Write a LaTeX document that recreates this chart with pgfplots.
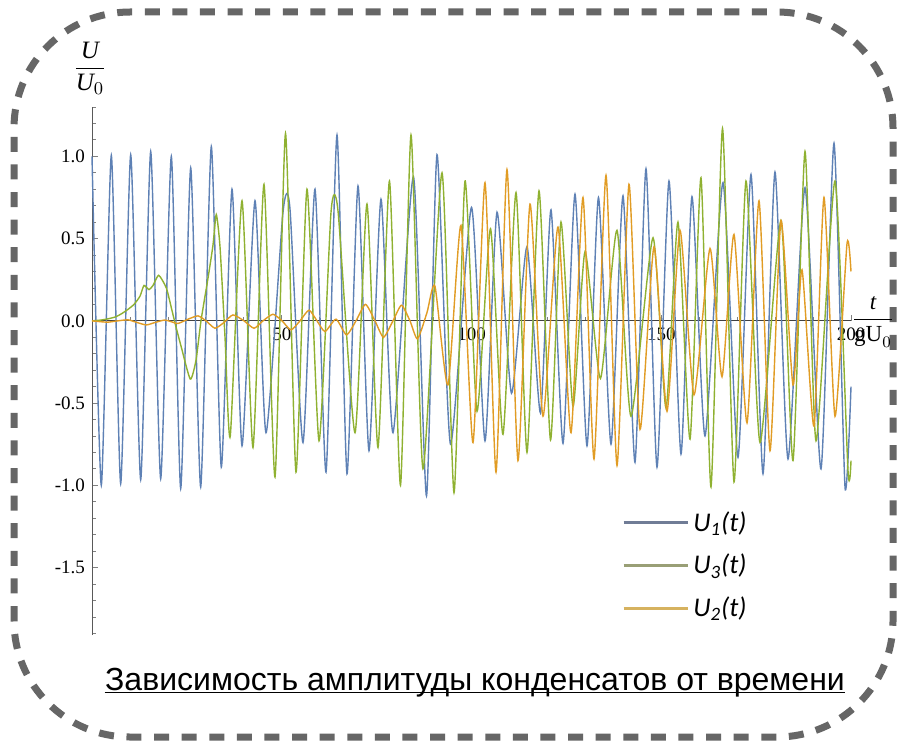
\documentclass[border=0pt]{standalone}
\usepackage{fontspec}
\setmainfont{Liberation Serif}
\newfontfamily\titlefont{Liberation Sans}
\newfontfamily\legfont{Carlito}
\usepackage{pgfplots}
\pgfplotsset{compat=1.18}
\definecolor{mblue}{HTML}{5E81B5}
\definecolor{mgreen}{HTML}{8FB131}
\definecolor{morange}{HTML}{E19C24}
\definecolor{legblue}{HTML}{707C96}
\definecolor{leggreen}{HTML}{999F76}
\definecolor{legorange}{HTML}{D6B25F}
\definecolor{bordergray}{HTML}{666666}
\begin{document}
\begin{tikzpicture}
\path[use as bounding box] (0pt,0pt) rectangle (452.5pt,370.5pt);
\fill[white] (0pt,0pt) rectangle (452.5pt,370.5pt);
\draw[line width=3.5pt, bordergray, dash pattern=on 7.5pt off 6.3pt, rounded corners=58pt] (7pt,2pt) rectangle (446.5pt,364.5pt);
\begin{axis}[
  at={(46pt,53pt)}, anchor=south west,
  scale only axis, width=379.5pt, height=264pt,
  xmin=0, xmax=200, ymin=-1.91, ymax=1.30,
  axis lines=middle,
  axis line style={-, black!65},
  x axis line style={black!75},
  hide obscured x ticks=false, hide obscured y ticks=false,
  xtick={50,100,150,200}, xticklabels={50,100,150,200},
  minor xtick={10,20,30,40,60,70,80,90,110,120,130,140,160,170,180,190},
  ytick={-1.5,-1,-0.5,0,0.5,1}, yticklabels={-1.5,-1.0,-0.5,0.0,0.5,1.0},
  minor ytick={-1.9,-1.8,-1.7,-1.6,-1.4,-1.3,-1.2,-1.1,-0.9,-0.8,-0.7,-0.6,-0.4,-0.3,-0.2,-0.1,0.1,0.2,0.3,0.4,0.6,0.7,0.8,0.9,1.1,1.2,1.3},
  tick align=inside,
  major tick length=3pt, minor tick length=1.8pt,
  tick style={black!50, line width=0.4pt},
  tick label style={font=\fontsize{9.5}{10}\selectfont, black},
  legend style={at={(0.69,0.25)}, anchor=north west, draw=none, fill=none,
    font=\legfont\itshape\fontsize{13.5}{15}\selectfont, row sep=6pt},
  legend cell align=left,
  legend image code/.code={\draw[#1, line width=1.6pt] (0pt,0pt) -- (32pt,0pt);},
  every axis plot/.append style={line width=0.7pt, smooth, tension=0.36},
  clip=false,
]
\addplot[mblue, forget plot] coordinates {
(0,1.0) (2.45,-1.0) (5.09,1.006) (7.56,-0.99) (10.20,1.01) (12.83,-0.966) (15.47,1.03) (18.10,-0.96) (20.90,1.0) (23.37,-1.02) (26.01,0.93) (28.64,-1.01) (31.44,1.06) (34.07,-0.89) (36.89,0.80) (39.53,-0.76) (42.95,0.73) (45.85,-0.68) (50.33,0.66) (52.17,0.68) (55.60,-0.74) (58.76,0.80) (61.66,-0.92) (64.56,1.13) (67.19,-0.93) (70.09,0.82) (72.99,-0.79) (76.15,0.74) (79.31,-0.68) (84.72,0.875) (88.14,-1.065) (90.91,1.01) (94.47,-0.75) (100.0,0.69) (103.56,-0.73) (106.72,0.66) (110.54,-0.44) (114.62,0.45) (118.18,-0.56) (120.95,0.675) (124.11,-0.745) (127.27,0.77) (130.43,-0.76) (133.46,0.75) (136.76,-0.75) (139.92,0.76) (143.08,-0.86) (145.98,0.925) (148.88,-0.89) (152.04,0.85) (155.20,-0.81) (158.10,0.755) (161.53,-0.70) (166.27,0.84) (170.22,-0.83) (173.65,0.89) (176.81,-0.93) (179.97,0.905) (183.40,-0.84) (187.88,0.81) (192.09,-0.90) (195.52,1.08) (198.42,-1.01) (200,-0.4)
};
\addplot[mgreen, forget plot] coordinates {
(0,0) (2.11,0.004) (4.22,0.012) (6.32,0.025) (7.91,0.045) (9.49,0.07) (11.07,0.10) (12.65,0.15) (13.70,0.215) (15.02,0.19) (16.07,0.215) (17.58,0.277) (19.58,0.2) (20.90,0.08) (21.95,-0.02) (23.53,-0.16) (25.90,-0.354) (27.40,-0.24) (28.72,0.0) (30.57,0.26) (31.88,0.46) (32.75,0.646) (33.73,0.45) (35.05,-0.1) (36.44,-0.70) (39.53,0.73) (42.42,-0.77) (45.32,0.83) (48.22,-0.95) (50.99,1.14) (53.75,-0.92) (56.65,0.80) (59.82,-0.73) (62.98,0.66) (64.82,0.67) (69.30,-0.68) (72.46,0.71) (75.36,-0.77) (78.39,0.85) (81.29,-1.0) (84.06,1.13) (87.22,-0.9) (92.23,0.9) (95.39,-1.045) (98.29,0.85) (101.45,-0.55) (105.01,0.56) (108.30,-0.69) (111.73,0.78) (114.62,-0.80) (117.79,0.79) (120.82,-0.725) (123.58,0.60) (126.75,-0.52) (129.91,0.42) (133.99,-0.35) (138.34,0.55) (142.03,-0.58) (147.83,0.505) (151.26,-0.53) (154.41,0.60) (157.58,-0.72) (160.47,0.87) (163.11,-1.01) (166.14,1.17) (169.17,-0.98) (172.33,0.85) (176.02,-0.74) (181.55,0.61) (184.72,-0.85) (187.88,1.03) (190.78,-0.73) (195.78,0.85) (199.21,-0.91) (200,-0.85)
};
\addplot[morange, forget plot] coordinates {
(0,0) (2.11,-0.005) (4.22,-0.008) (6.85,0.0) (9.49,0.006) (11.86,-0.01) (14.31,-0.025) (16.60,-0.01) (19.16,0.005) (20.82,-0.005) (22.66,-0.016) (25.30,0.01) (27.93,0.03) (30.04,0.0) (32.41,-0.045) (34.78,-0.01) (37.15,0.036) (40.05,0.0) (42.69,-0.045) (45.06,0.0) (47.69,0.04) (50.07,0.0) (52.44,-0.055) (54.81,0.0) (57.18,0.065) (59.29,0.0) (61.40,-0.065) (64.30,0.01) (67.06,-0.085) (69.57,0.0) (72.07,0.10) (74.57,0.0) (76.81,-0.10) (79.31,0.0) (81.55,0.095) (83.79,0.0) (85.77,-0.11) (88.27,0.05) (90.38,0.21) (93.81,-0.39) (97.23,0.58) (100.40,-0.74) (103.56,0.84) (106.46,-0.92) (109.35,0.92) (112.25,-0.85) (115.42,0.71) (118.84,-0.58) (122.79,0.57) (126.22,-0.68) (129.38,0.75) (132.28,-0.84) (135.44,0.885) (138.34,-0.88) (141.50,0.83) (144.40,-0.66) (148.09,0.45) (151.52,-0.55) (154.94,0.55) (158.63,-0.45) (162.85,0.44) (166.01,-0.34) (169.17,0.525) (172.60,-0.62) (175.76,0.73) (178.66,-0.79) (181.55,0.61) (184.72,-0.39) (187.09,0.31) (190.25,-0.64) (192.88,0.75) (195.78,-0.58) (198.95,0.47) (200,0.3)
};
\addlegendimage{legblue}
\addlegendentry{U\textsubscript{1}(t)}
\addlegendimage{leggreen}
\addlegendentry{U\textsubscript{3}(t)}
\addlegendimage{legorange}
\addlegendentry{U\textsubscript{2}(t)}
\end{axis}
\node[font=\fontsize{12.5}{13}\selectfont] at (45pt,336.5pt) {$\displaystyle\frac{\textit{U}}{\textit{U}_{0}}$};
\node[font=\fontsize{11.5}{12}\selectfont] at (436.5pt,209.5pt) {$\displaystyle\frac{\textit{t}}{\textrm{gU}_{0}}$};
\node[font=\titlefont\fontsize{16}{18}\selectfont, anchor=base, inner sep=0pt] (T) at (237.5pt,25.5pt) {Зависимость амплитуды конденсатов от времени};
\draw[line width=0.7pt] ([yshift=-1.2pt]T.base west) -- ([yshift=-1.2pt]T.base east);
\end{tikzpicture}
\end{document}
